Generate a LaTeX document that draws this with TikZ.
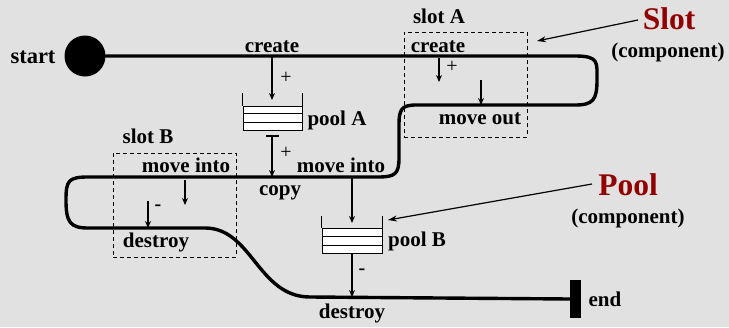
\documentclass[tikz,border=0pt]{standalone}
\usepackage{fontspec}
\setmainfont{Liberation Serif}
\usetikzlibrary{arrows.meta}
\definecolor{bg}{HTML}{E1E1E1}
\definecolor{darkred}{HTML}{900000}
\begin{document}
\begin{tikzpicture}[x=1pt,y=-1pt,
  lbl/.style={font=\fontsize{21}{23}\selectfont\bfseries, inner sep=0pt, anchor=base},
  big/.style={font=\fontsize{31.5}{33}\selectfont\bfseries, text=darkred, inner sep=0pt, anchor=base},
  track/.style={line width=3.4pt, line cap=round, line join=round},
  thin/.style={line width=1.2pt},
  arr/.style={thin, -{Stealth[length=7pt,width=6pt]}},
  slotbox/.style={draw, dashed, line width=0.9pt, dash pattern=on 4pt off 3pt},
  poolfill/.style={draw, line width=0.9pt, fill=white},
  sign/.style={font=\fontsize{20}{22}\selectfont, inner sep=0pt}]
\fill[bg] (0,0) rectangle (729,327);
\useasboundingbox (0,0) rectangle (729,327);

% start and end
\node[circle, fill=black, minimum size=41pt, inner sep=0pt] (start) at (85,56) {};
\node[lbl, font=\fontsize{22.5}{24}\selectfont\bfseries] (startlbl) at (33,63) {start};
\node[fill=black, minimum width=11pt, minimum height=38pt, inner sep=0pt] (endbar) at (575.5,299) {};
\node[lbl] (endlbl) at (605,306) {end};

% track
\coordinate (t1) at (272,56);
\coordinate (t2) at (481,105);
\coordinate (t3) at (272,177);
\coordinate (t4) at (352,177);
\coordinate (t5) at (148,228);
\coordinate (t6) at (352,297);
\draw[track] (start.east) -- (575,56)
  .. controls (599,56) and (597,62) .. (597,80)
  .. controls (597,100) and (593,105) .. (575,105)
  -- (416,105)
  .. controls (401,105) and (399,110) .. (399,125)
  -- (399,158)
  .. controls (399,174) and (395,177) .. (378,177)
  -- (88,177)
  .. controls (68,177) and (66,181) .. (66,200)
  .. controls (66,222) and (70,228) .. (88,228)
  -- (205,228)
  .. controls (252,228) and (258,297) .. (310,297)
  -- (endbar.west);

% slot boxes
\node[slotbox, minimum width=123pt, minimum height=105pt, inner sep=0pt] (slotA) at (465.5,84.5) {};
\node[slotbox, minimum width=123pt, minimum height=104pt, inner sep=0pt] (slotB) at (174.5,205) {};
\node[lbl] (slotAlbl) at (439,23) {slot A};
\node[lbl] (slotBlbl) at (148,143) {slot B};

% pool A
\node[poolfill, minimum width=59pt, minimum height=24pt, inner sep=0pt] (poolA) at (272.5,118) {};
\draw[thin] (poolA.north west) -- ++(0,-13) (poolA.north east) -- ++(0,-13);
\draw[line width=0.9pt] (243,113.5) -- (302,113.5) (243,122.5) -- (302,122.5);
\node[lbl] (poolAlbl) at (337,125) {pool A};

% pool B
\node[poolfill, minimum width=60pt, minimum height=25pt, inner sep=0pt] (poolB) at (352,240.5) {};
\draw[thin] (poolB.north west) -- ++(0,-12) (poolB.north east) -- ++(0,-12);
\draw[line width=0.9pt] (322,236.5) -- (382,236.5) (322,245) -- (382,245);
\node[lbl] (poolBlbl) at (417,246) {pool B};

% labels on track
\node[lbl] (create1) at (272,52) {create};
\node[lbl] (moveinto2) at (341,172) {move into};
\node[lbl] (copy) at (280,195) {copy};
\node[lbl] (destroy2) at (352,318) {destroy};
\node[lbl] (createA) at (438,52) {create};
\node[lbl] (moveout) at (480,124) {move out};
\node[lbl] (moveintoB) at (186,172) {move into};
\node[lbl] (destroyB) at (156,247) {destroy};

% arrows
\draw[arr] (t1) -- (272,100);
\node[sign] (p1) at (286,78) {+};
\coordinate (tb) at (272,136);
\draw[thin] (266,136) -- (279,136);
\draw[arr] (tb) -- (t3);
\node[sign] (p2) at (286,153) {+};
\draw[arr] (t4) -- (352,223);
\draw[arr] (poolB.south) -- (t6);
\node[sign, font=\fontsize{20}{22}\selectfont\bfseries] (m1) at (362,272) {-};

\coordinate (a1s) at (439,58);
\draw[arr] (a1s) -- (439,82);
\node[sign] (p3) at (452,67) {+};
\coordinate (a2s) at (481,80);
\draw[arr] (a2s) -- (t2);

\coordinate (b1s) at (185,180);
\draw[arr] (b1s) -- (185,205);
\coordinate (b2s) at (148,201);
\draw[arr] (b2s) -- (t5);
\node[sign, font=\fontsize{20}{22}\selectfont\bfseries] (m2) at (158,208) {-};

% component labels
\node[big] (slotword) at (669,29) {Slot};
\node[lbl] (comp1) at (668,57) {(component)};
\node[big] (poolword) at (628,195) {Pool};
\node[lbl] (comp2) at (628,223) {(component)};
\coordinate (sa) at (638,20);
\coordinate (pa) at (592,184);
\draw[thin, -{Stealth[length=9pt,width=6pt]}] (sa) -- (537,41);
\draw[thin, -{Stealth[length=9pt,width=6pt]}] (pa) -- (388,220);
\end{tikzpicture}
\end{document}
